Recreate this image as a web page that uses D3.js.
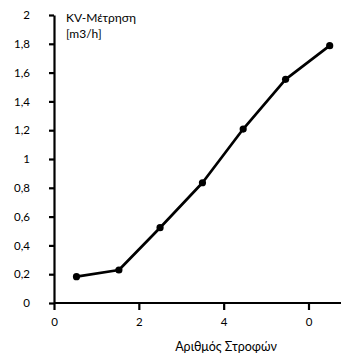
<!DOCTYPE html>
<html><head><meta charset="utf-8">
<script src="https://cdn.jsdelivr.net/npm/d3@7"></script>
<style>body{margin:0;background:#fff}text{font-family:Lato,"Open Sans",sans-serif}</style>
</head><body><svg id="c" width="341" height="354"></svg>
<script>
const xValues = [0.53, 1.53, 2.5, 3.5, 4.46, 5.46, 6.5];
const yValues = [0.183, 0.229, 0.523, 0.835, 1.208, 1.553, 1.787];
const xTicks = [0, 2, 4, 6];
const xTickLabels = ["0", "2", "4", "0"];
const yTicks = [0, 0.2, 0.4, 0.6, 0.8, 1, 1.2, 1.4, 1.6, 1.8, 2];
const yTickLabels = ["0", "0,2", "0,4", "0,6", "0,8", "1", "1,2", "1,4", "1,6", "1,8", "2"];
const yTitle = ["KV-Μέτρηση", "[m3/h]"];
const xTitle = "Αριθμός Στροφών";

const svg = d3.select("#c");
const x = d3.scaleLinear().domain([0, 6]).range([54, 308.5]);
const y = d3.scaleLinear().domain([0, 2]).range([303, 15]);

const xa = svg.append("g").attr("transform", "translate(0,303)")
  .call(d3.axisBottom(x).tickValues(xTicks).tickFormat((d, i) => xTickLabels[i]).tickSize(7).tickPadding(8).tickSizeOuter(0));
xa.select(".domain").attr("d", "M54,0H341");
const ya = svg.append("g").attr("transform", "translate(54,0)")
  .call(d3.axisLeft(y).tickValues(yTicks).tickFormat((d, i) => yTickLabels[i]).tickSize(5).tickPadding(19).tickSizeOuter(0));
svg.selectAll(".domain").attr("stroke", "#000").attr("stroke-width", 2.2);
svg.selectAll(".tick line").attr("stroke", "#000").attr("stroke-width", 2.2);
svg.selectAll(".tick text").attr("font-size", 11.5).attr("fill", "#000").attr("font-family", "Lato, 'Open Sans', sans-serif");

const pts = xValues.map((v, i) => [v, yValues[i]]);
svg.append("path").datum(pts)
  .attr("d", d3.line().x(d => x(d[0])).y(d => y(d[1])))
  .attr("fill", "none").attr("stroke", "#000").attr("stroke-width", 2.7).attr("stroke-linejoin", "round");
svg.selectAll("circle.p").data(pts).enter().append("circle")
  .attr("cx", d => x(d[0])).attr("cy", d => y(d[1])).attr("r", 3.6).attr("fill", "#000");

svg.append("text").attr("x", 66).attr("y", 22).attr("font-size", 12).text(yTitle[0]);
svg.append("text").attr("x", 66).attr("y", 38).attr("font-size", 12).text(yTitle[1]);
svg.append("text").attr("x", 226).attr("y", 351).attr("text-anchor", "middle").attr("font-size", 12.5).text(xTitle);
</script></body></html>
